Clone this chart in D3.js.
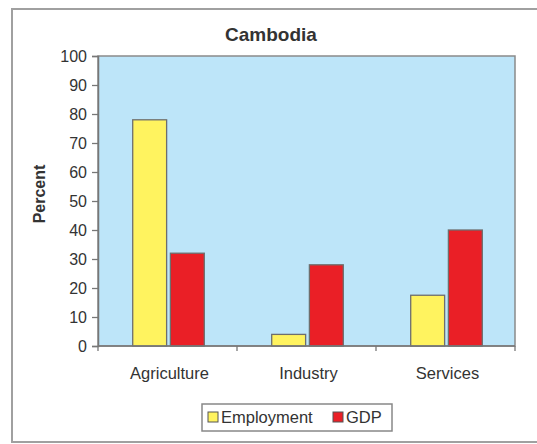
<!DOCTYPE html>
<html>
<head>
<meta charset="utf-8">
<script src="https://cdn.jsdelivr.net/npm/d3@7"></script>
<style>
  html, body { margin: 0; padding: 0; background: #fff; }
  svg { display: block; font-family: "Liberation Sans", Arial, sans-serif; }
</style>
</head>
<body>
<div id="chart"></div>
<script>
// Cambodia: share of employment vs GDP by sector, grouped bars on a blue plot area.

const categories = ['Agriculture', 'Industry', 'Services'];
const series = ['Employment', 'GDP'];
const employment = [78, 4, 17.5];
const gdp = [32, 28, 40];
const yTicks = [0, 10, 20, 30, 40, 50, 60, 70, 80, 90, 100];

const colors = { Employment: '#fff35f', GDP: '#ea1f26' };
const ink = '#333';

const W = 537, H = 444;
const plot = { left: 98, right: 515, top: 56, bottom: 346 };

const svg = d3.select('#chart').append('svg').attr('width', W).attr('height', H);

// outer chart frame (runs off the right edge like the reference)
svg.append('rect')
  .attr('x', 12).attr('y', 9).attr('width', 540).attr('height', 433)
  .attr('fill', '#fff').attr('stroke', '#a0a0a0').attr('stroke-width', 2);

svg.append('text')
  .attr('x', 271).attr('y', 41).attr('text-anchor', 'middle')
  .style('font-size', '19px').style('font-weight', 700).style('fill', ink)
  .text('Cambodia');

const x0 = d3.scaleBand().domain(categories).range([plot.left, plot.right]);
const groupW = x0.bandwidth() * 0.515;
const x1 = d3.scaleBand().domain(series)
  .range([(x0.bandwidth() - groupW) / 2 + 1, (x0.bandwidth() + groupW) / 2 + 1])
  .paddingInner(0.1);
const y = d3.scaleLinear().domain([0, 100]).range([plot.bottom, plot.top]);

// plot background
svg.append('rect')
  .attr('x', plot.left).attr('y', plot.top)
  .attr('width', plot.right - plot.left).attr('height', plot.bottom - plot.top)
  .attr('fill', '#bde5f9').attr('stroke', '#8a8a8a').attr('stroke-width', 1.5);

// bars
const rows = categories.map((c, i) => ({ cat: c, values: { Employment: employment[i], GDP: gdp[i] } }));
svg.append('g').selectAll('g').data(rows).join('g')
  .attr('transform', (d) => `translate(${x0(d.cat)},0)`)
  .selectAll('rect').data((d) => series.map((s) => ({ s, v: d.values[s] }))).join('rect')
  .attr('x', (d) => x1(d.s)).attr('width', x1.bandwidth())
  .attr('y', (d) => y(d.v)).attr('height', (d) => y(0) - y(d.v))
  .attr('fill', (d) => colors[d.s]).attr('stroke', '#6e6e6e').attr('stroke-width', 1.3);

// y axis
const yAxis = svg.append('g').attr('transform', `translate(${plot.left},0)`)
  .call(d3.axisLeft(y).tickValues(yTicks).tickSize(6).tickPadding(5));
yAxis.select('.domain').attr('stroke', '#777').attr('stroke-width', 1.5);
yAxis.selectAll('.tick line').attr('stroke', '#777').attr('stroke-width', 1.3);
yAxis.selectAll('.tick text').style('font-size', '16px').style('fill', ink).style('font-family', 'inherit');

// x axis: ticks on category boundaries, labels centred in bands
const xAxis = svg.append('g').attr('transform', `translate(0,${plot.bottom})`);
const bounds = categories.map((c) => x0(c)).concat([plot.right]);
xAxis.append('line').attr('x1', plot.left).attr('x2', plot.right)
  .attr('stroke', '#777').attr('stroke-width', 1.5);
xAxis.selectAll('line.t').data(bounds).join('line').attr('class', 't')
  .attr('x1', (d) => d).attr('x2', (d) => d).attr('y1', 0).attr('y2', 5)
  .attr('stroke', '#777').attr('stroke-width', 1.3);
xAxis.selectAll('text').data(categories).join('text')
  .attr('x', (d) => x0(d) + x0.bandwidth() / 2 + 2).attr('y', 33)
  .attr('text-anchor', 'middle')
  .style('font-size', '16.5px').style('fill', ink)
  .text((d) => d);

// y title
svg.append('text')
  .attr('transform', 'translate(45,194) rotate(-90)')
  .attr('text-anchor', 'middle')
  .style('font-size', '16px').style('font-weight', 700).style('fill', ink)
  .text('Percent');

// legend
const lg = svg.append('g').attr('transform', 'translate(202,404)');
lg.append('rect').attr('width', 190).attr('height', 27)
  .attr('fill', '#fff').attr('stroke', '#888').attr('stroke-width', 1.5);
const legendX = { Employment: 6, GDP: 131 };
const items = lg.selectAll('g').data(series).join('g')
  .attr('transform', (d) => `translate(${legendX[d]},8)`);
items.append('rect').attr('width', 10).attr('height', 10)
  .attr('fill', (d) => colors[d]).attr('stroke', '#555').attr('stroke-width', 1);
items.append('text').attr('x', 13).attr('y', 11)
  .style('font-size', '16.5px').style('fill', ink)
  .text((d) => d);
</script>
</body>
</html>
